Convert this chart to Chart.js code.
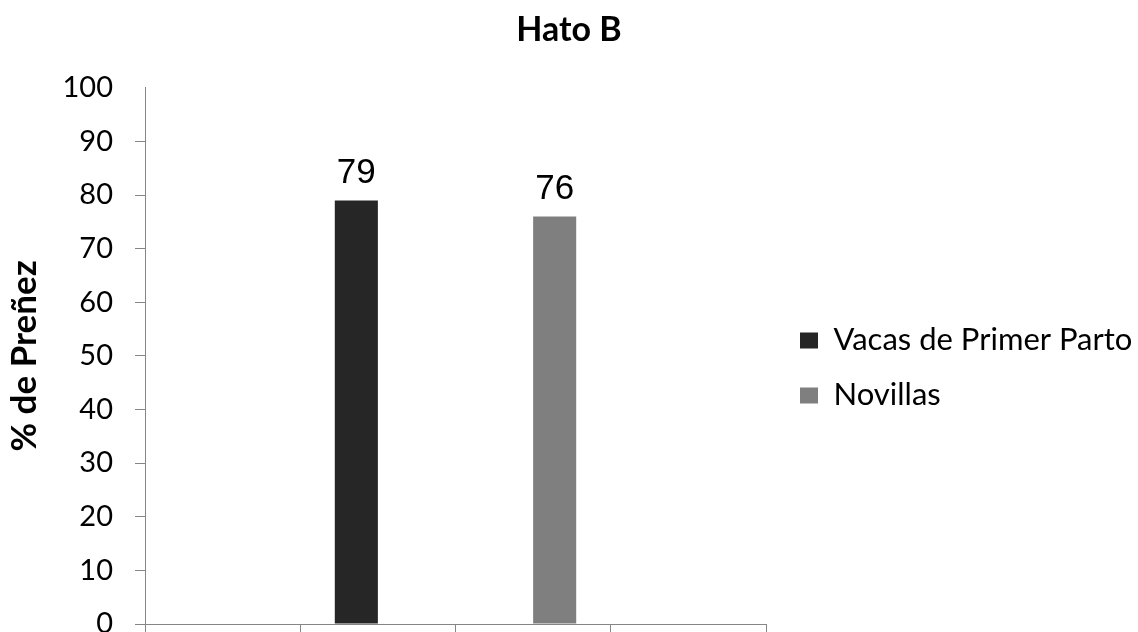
<!DOCTYPE html>
<html>
<head>
<meta charset="utf-8">
<script src="https://cdn.jsdelivr.net/npm/chart.js@4/dist/chart.umd.min.js"></script>
<style>
  html, body { margin: 0; padding: 0; background: #ffffff; }
  #wrap { width: 1138px; height: 632px; }
</style>
</head>
<body>
<div id="wrap"><canvas id="chart" width="1138" height="632"></canvas></div>
<script>
// Four category slots along the x axis, no category names shown
const categories = ['', '', '', ''];
// % de preñez per group
const vacasPrimerParto = [null, 79, null, null];
const novillas = [null, null, 76, null];
// y axis ticks
const yTickValues = [0, 10, 20, 30, 40, 50, 60, 70, 80, 90, 100];

const axisGray = '#868686';

// Writes each bar's value above it
const valueLabels = {
  id: 'valueLabels',
  afterDatasetsDraw(chart) {
    const ctx = chart.ctx;
    ctx.save();
    ctx.font = '35px "Liberation Sans", Arial, sans-serif';
    ctx.fillStyle = '#000000';
    ctx.textAlign = 'center';
    ctx.textBaseline = 'alphabetic';
    chart.data.datasets.forEach((ds, i) => {
      chart.getDatasetMeta(i).data.forEach((bar, j) => {
        const v = ds.data[j];
        if (v === null || v === undefined) return;
        ctx.fillText(String(v), bar.x, bar.y - 17);
      });
    });
    ctx.restore();
  }
};

Chart.defaults.font.family = 'Lato, "Open Sans", sans-serif';
Chart.defaults.color = '#000000';

new Chart(document.getElementById('chart'), {
  type: 'bar',
  data: {
    labels: categories,
    datasets: [
      { label: 'Vacas de Primer Parto', data: vacasPrimerParto, backgroundColor: '#262626', borderWidth: 0 },
      { label: 'Novillas', data: novillas, backgroundColor: '#7f7f7f', borderWidth: 0 }
    ]
  },
  options: {
    responsive: false,
    animation: false,
    events: [],
    layout: { padding: 0 },
    datasets: { bar: { barPercentage: 1, categoryPercentage: 0.555 } },
    plugins: {
      tooltip: { enabled: false },
      title: {
        display: true,
        text: 'Hato B',
        font: { size: 34, weight: 'bold' },
        color: '#000000',
        padding: { top: 10, bottom: 37 }
      },
      legend: {
        position: 'right',
        align: 'center',
        fullSize: false,
        maxWidth: 362,
        // empty title row pushes the entries down a little
        title: { display: true, text: '', font: { size: 20 }, padding: 0 },
        labels: {
          boxWidth: 18,
          boxHeight: 16,
          padding: 24,
          font: { size: 31 },
          color: '#000000'
        }
      }
    },
    scales: {
      x: {
        offset: true,
        grid: { offset: true, drawOnChartArea: false, drawTicks: true, tickLength: 12, color: axisGray, lineWidth: 1 },
        border: { display: true, color: axisGray, width: 1 },
        ticks: { display: false },
        afterFit(s) { s.height = 8; }
      },
      y: {
        min: 0,
        max: 100,
        afterBuildTicks(s) { s.ticks = yTickValues.map(v => ({ value: v })); },
        grid: {
          drawOnChartArea: false,
          tickLength: 10,
          tickColor: (c) => (c.tick && c.tick.value === 100 ? 'rgba(0,0,0,0)' : axisGray),
          color: axisGray
        },
        border: { display: true, color: axisGray, width: 1 },
        ticks: { padding: 22, font: { size: 29 }, color: '#000000' },
        title: {
          display: true,
          text: '% de Preñez',
          font: { size: 35, weight: 'bold' },
          color: '#000000',
          padding: { top: 4, bottom: 0 }
        },
        afterFit(s) {
          s.width = 145;
          // let the bottom label hang past the edge instead of shrinking the plot
          s.paddingBottom = 0;
          s.paddingTop = 0;
        }
      },
      // spacer between the plot and the legend
      gap: {
        type: 'linear',
        position: 'right',
        display: true,
        grid: { display: false, drawTicks: false },
        border: { display: false },
        ticks: { display: false },
        afterFit(s) { s.width = 10; }
      }
    }
  },
  plugins: [valueLabels]
});
</script>
</body>
</html>
